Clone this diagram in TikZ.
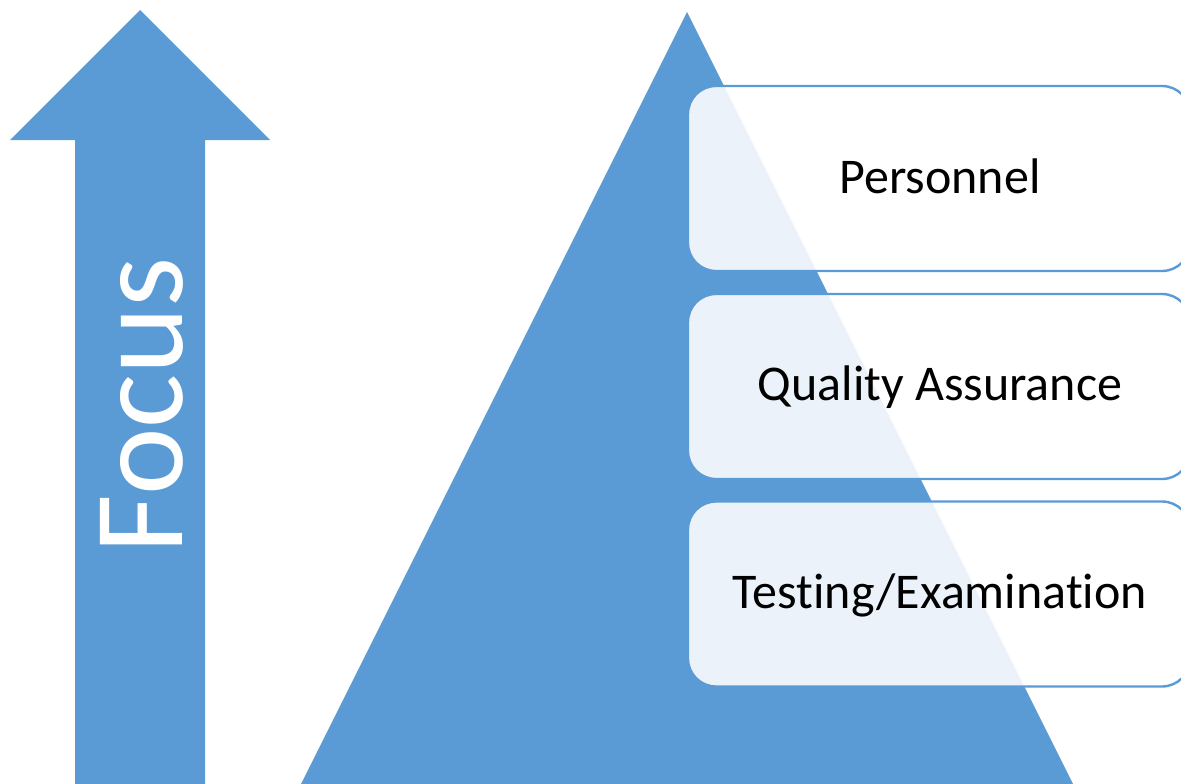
\documentclass[tikz,border=0pt]{standalone}
\usepackage{fontspec}
\setmainfont[Ligatures={NoCommon,NoRequired,NoContextual}]{Carlito}
\definecolor{accent}{HTML}{5B9BD5}
\tikzset{
  levelbox/.style={draw=accent, line width=2.4bp, fill=white, fill opacity=0.88,
    rounded corners=28bp, minimum width=502bp, minimum height=185bp, inner sep=0pt},
  leveltext/.style={text=black, font=\fontsize{50bp}{51bp}\selectfont, anchor=base, inner sep=0pt},
}
\begin{document}
\begin{tikzpicture}[x=1bp,y=-1bp]
\useasboundingbox (0,0) rectangle (1181,784);
\clip (0,0) rectangle (1181,784);
% focus arrow
\fill[accent] (140,10) -- (270,140) -- (205,140) -- (205,790) -- (75,790) -- (75,140) -- (10,140) -- cycle;
\node[rotate=90, anchor=base, text=white, inner sep=0pt, font=\fontsize{128bp}{129bp}\selectfont] (focus) at (182,405) {Focus};
% pyramid
\fill[accent] (687,12) -- (1073,784) -- (301,784) -- cycle;
% level boxes
\node[levelbox] (b1) at (939,178.5) {};
\node[levelbox] (b2) at (939,386.5) {};
\node[levelbox] (b3) at (939,594) {};
\node[leveltext] (t1) at (940,193) {Personnel};
\node[leveltext] (t2) at (940,400) {Quality Assurance};
\node[leveltext] (t3) at (940,608) {Test\kern0pt ing/Examinat\kern0pt ion};
\end{tikzpicture}
\end{document}
